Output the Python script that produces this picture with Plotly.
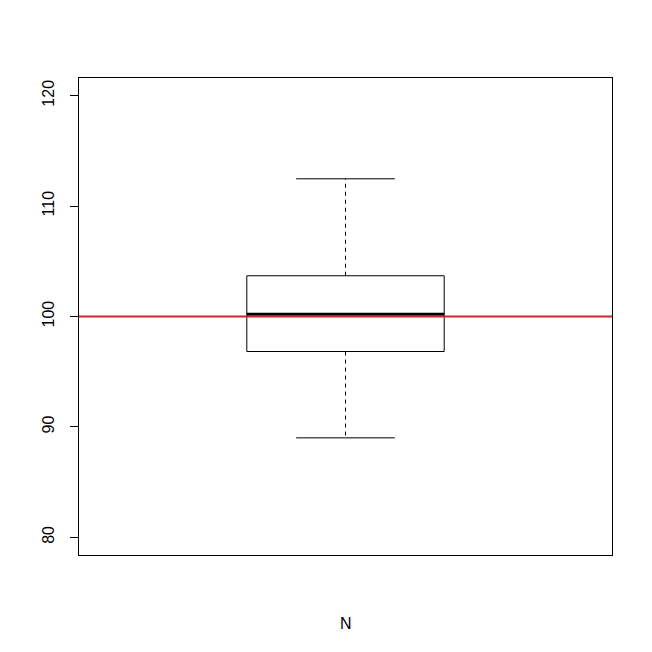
import plotly.graph_objects as go

# box statistics
group = "N"
q1 = 96.83
median = 100.21
q3 = 103.69
lower_whisker = 89.01
upper_whisker = 112.47
ref_value = 100

y_ticks = [80, 90, 100, 110, 120]

pos = 1.0
half_box = 0.2
half_cap = 0.1
xr = [0.46, 1.54]

fig = go.Figure()

# box outline
fig.add_trace(go.Scatter(
    x=[pos - half_box, pos + half_box, pos + half_box, pos - half_box, pos - half_box],
    y=[q1, q1, q3, q3, q1],
    mode="lines", line=dict(color="black", width=1)))

# whiskers (dashed) and caps
for a, b in [(q3, upper_whisker), (q1, lower_whisker)]:
    fig.add_trace(go.Scatter(x=[pos, pos], y=[a, b], mode="lines",
                             line=dict(color="black", width=1, dash="4px,4px")))
    fig.add_trace(go.Scatter(x=[pos - half_cap, pos + half_cap], y=[b, b], mode="lines",
                             line=dict(color="black", width=1)))

# median
fig.add_trace(go.Scatter(x=[pos - half_box, pos + half_box], y=[median, median],
                         mode="lines", line=dict(color="black", width=3)))

# reference line
fig.add_trace(go.Scatter(x=xr, y=[ref_value, ref_value], mode="lines",
                         line=dict(color="#CD2626", width=2)))

fig.add_annotation(text=group, x=pos, xref="x", y=0, yref="paper",
                   yshift=-68, yanchor="middle", showarrow=False,
                   font=dict(size=16, color="black"))

# page body adds an 8px offset, so margins are shifted to compensate
fig.update_layout(
    width=652, height=652,
    margin=dict(l=71, r=48, t=70, b=105, autoexpand=False),
    plot_bgcolor="white", paper_bgcolor="white",
    showlegend=False,
    font=dict(family="Liberation Sans, Arial, sans-serif", size=16, color="black"),
)
fig.update_xaxes(range=xr, showticklabels=False, ticks="", showgrid=False, automargin=False,
                 zeroline=False, showline=True, mirror=True, linecolor="black", linewidth=1)
fig.update_yaxes(range=[78.4, 121.6], tickvals=y_ticks, ticks="outside", ticklen=8,
                 tickcolor="black", tickangle=-90, ticklabelstandoff=10, automargin=False,
                 showgrid=False, zeroline=False, showline=True, mirror=True,
                 linecolor="black", linewidth=1)

fig.write_html("out.html")
